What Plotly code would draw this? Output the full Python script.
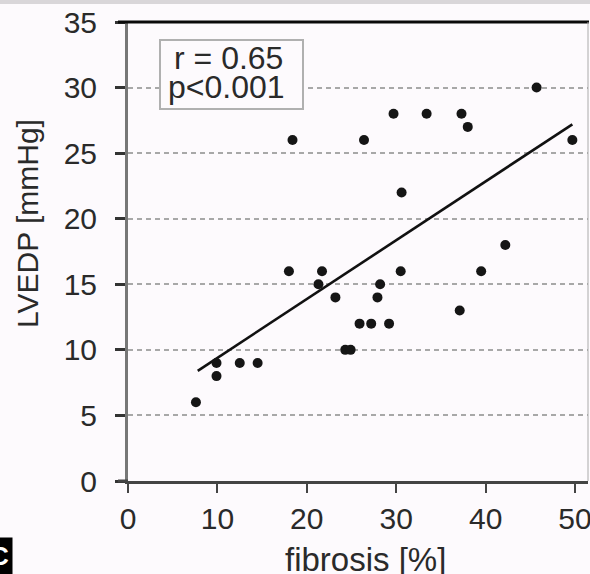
import plotly.graph_objects as go

# ---- data ----
fibrosis = [7.6, 9.9, 9.9, 12.5, 14.5, 18.0, 18.4, 21.3, 21.7, 23.2, 24.3, 24.9,
            25.9, 26.4, 27.2, 27.9, 28.2, 29.2, 29.7, 30.5, 30.6, 33.4, 37.1,
            37.3, 38.0, 39.5, 42.2, 45.7, 49.7]
lvedp = [6, 8, 9, 9, 9, 16, 26, 15, 16, 14, 10, 10,
         12, 26, 12, 14, 15, 12, 28, 16, 22, 28, 13,
         28, 27, 16, 18, 30, 26]
fit_x = [7.8, 49.7]
fit_y = [8.4, 27.2]
x_ticks = [0, 10, 20, 30, 40, 50]
y_ticks = [0, 5, 10, 15, 20, 25, 30, 35]
stat_r = "r = 0.65"
stat_p = "p&lt;0.001"

W, H = 590, 574
L, R, T, B = 128, 2, 22, 93
PW, PH = W - L - R, H - T - B
FONT = "Liberation Sans, Arial, Helvetica, sans-serif"
TXT = "#2a2a2a"


def px(xp):
    return (xp - L) / PW


def py(yp):
    return (H - B - yp) / PH


fig = go.Figure()
fig.add_trace(go.Scatter(x=fit_x, y=fit_y, mode="lines",
                         line=dict(color="#111", width=2.6), hoverinfo="skip"))
fig.add_trace(go.Scatter(x=fibrosis, y=lvedp, mode="markers",
                         marker=dict(color="#151515", size=10)))

fig.update_layout(
    width=W, height=H, margin=dict(l=L, r=R, t=T, b=B, autoexpand=False),
    paper_bgcolor="#fdfafd", plot_bgcolor="#fdfafd", showlegend=False,
    font=dict(family=FONT, color=TXT, size=29),
)
fig.update_xaxes(range=[0, 51.45], tickvals=x_ticks, ticks="outside", ticklen=9,
                 tickwidth=2, tickcolor="#444", showline=True, linecolor="#444",
                 linewidth=3, showgrid=False, zeroline=False, automargin=False,
                 ticklabelstandoff=0, ticklabeloverflow="allow",
                 tickfont=dict(size=30, color=TXT))
fig.update_yaxes(range=[0, 35], tickvals=y_ticks, ticks="outside", ticklen=10,
                 tickwidth=3, tickcolor="#333", showline=True, linecolor="#777",
                 linewidth=3, showgrid=True, gridcolor="#a8a8a8", gridwidth=2,
                 griddash="5px,4px", zeroline=False, automargin=False,
                 ticklabelstandoff=12, ticklabeloverflow="allow",
                 tickfont=dict(size=30, color=TXT))

shapes = [
    # top gray strip of the scan
    dict(type="rect", xref="paper", yref="paper", x0=px(0), x1=px(W), y0=py(4), y1=py(0),
         fillcolor="#d9d6d9", line=dict(width=0), layer="above"),
    # top frame line
    dict(type="line", xref="paper", yref="paper", x0=px(118), x1=px(589), y0=py(22), y1=py(22),
         line=dict(color="#0a0a0a", width=3), layer="above"),
    # bottom axis extension to the left
    dict(type="line", xref="paper", yref="paper", x0=px(118), x1=px(128), y0=py(481), y1=py(481),
         line=dict(color="#444", width=3), layer="above"),
    # right frame line
    dict(type="line", xref="paper", yref="paper", x0=px(588), x1=px(588), y0=py(481), y1=py(22),
         line=dict(color="#aaa", width=1), layer="above"),
    # stats box
    dict(type="rect", xref="paper", yref="paper", x0=px(160), x1=px(303), y0=py(109), y1=py(40),
         fillcolor="#fdfafd", line=dict(color="#b0b0b0", width=2), layer="above"),
]
fig.update_layout(shapes=shapes)

annotations = [
    dict(text=stat_r, xref="paper", yref="paper", x=px(172), y=py(58), xanchor="left",
         yanchor="middle", showarrow=False, font=dict(size=32, color=TXT)),
    dict(text=stat_p, xref="paper", yref="paper", x=px(166), y=py(87), xanchor="left",
         yanchor="middle", showarrow=False, font=dict(size=32, color=TXT)),
    dict(text="LVEDP [mmHg]", xref="paper", yref="paper", x=px(27), y=py(224), textangle=-90,
         xanchor="center", yanchor="middle", showarrow=False, font=dict(size=30, color=TXT)),
    dict(text="fibrosis [%]", xref="paper", yref="paper", x=px(365), y=py(559),
         xanchor="center", yanchor="middle", showarrow=False, font=dict(size=33, color=TXT)),
    dict(text="<b>C</b>", xref="paper", yref="paper", x=px(13), y=py(556), xanchor="right",
         yanchor="middle", showarrow=False, bgcolor="#000", borderpad=3,
         font=dict(size=26, color="#fff")),
]
fig.update_layout(annotations=annotations)

fig.write_html("out.html")
